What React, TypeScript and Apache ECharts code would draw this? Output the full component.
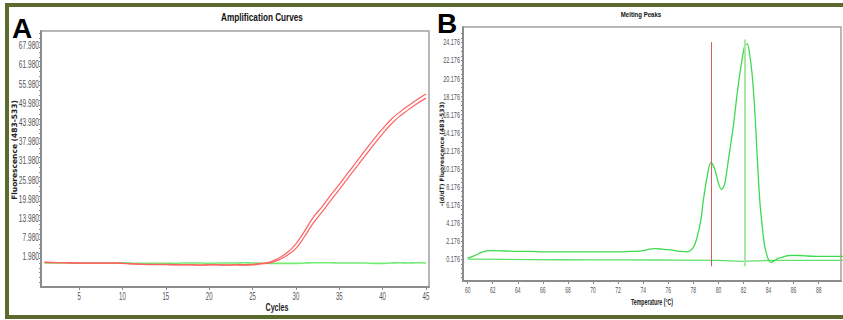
import React, { useEffect, useRef } from "react";
import * as echarts from "echarts";

// ---------- Panel A: Amplification Curves ----------
const cycles = [1,2,3,4,5,6,7,8,9,10,11,12,13,14,15,16,17,18,19,20,21,22,23,24,25,26,27,28,29,30,31,32,33,34,35,36,37,38,39,40,41,42,43,44,45];
const redCurve1 = [0.3,0.2,0.1,0.1,0.0,0.0,0.0,0.0,0.0,-0.1,-0.2,-0.3,-0.4,-0.4,-0.4,-0.5,-0.5,-0.5,-0.6,-0.5,-0.5,-0.6,-0.5,-0.5,-0.4,-0.1,0.3,1.5,3.3,6.0,10.0,14.3,17.6,21.2,24.6,28.2,31.7,35.3,38.8,42.0,45.0,47.3,49.3,51.2,52.9];
const redCurve2 = [0.2,0.1,0.1,0.0,0.0,0.0,0.0,0.0,0.0,-0.1,-0.3,-0.4,-0.5,-0.5,-0.5,-0.6,-0.6,-0.6,-0.7,-0.6,-0.6,-0.7,-0.6,-0.7,-0.6,-0.3,0.0,0.9,2.4,4.6,8.3,12.5,15.9,19.5,23.0,26.6,30.1,33.6,37.1,40.4,43.5,46.0,48.0,49.9,51.6];
const greenCurveA = [0.0,0.0,0.0,0.0,0.0,0.0,0.0,0.0,0.1,0.1,0.0,-0.1,-0.1,-0.1,-0.1,-0.1,0.0,0.0,0.0,-0.1,0.0,0.0,0.0,0.1,0.0,0.0,-0.1,-0.1,-0.1,-0.1,0.0,0.1,0.1,0.1,0.0,0.0,0.0,0.0,-0.1,-0.1,0.0,0.1,0.0,0.1,0.0];
const cycleTicks = [5,10,15,20,25,30,35,40,45];
const fluorTicks = [1.98,7.98,13.98,19.98,25.98,31.98,37.98,43.98,49.98,55.98,61.98,67.98];

// ---------- Panel B: Melting Peaks ----------
const temps = [60,60.5,61,61.5,62,63,64,65,66,67,68,69,70,71,72,73,74,74.5,75,75.5,76,76.5,77,77.5,78,78.3,78.6,78.8,79.1,79.4,79.7,80,80.25,80.5,80.8,81.2,81.5,81.8,82.1,82.3,82.5,82.7,82.9,83.1,83.3,83.5,83.7,84,84.2,84.5,84.8,85.2,85.6,86,86.5,87,88,89,90];
const meltPeak = [0.3,0.55,0.9,1.1,1.15,1.1,1.05,1.05,1.0,1.0,1.0,1.0,1.0,1.0,1.0,1.05,1.15,1.3,1.35,1.3,1.25,1.15,1.05,1.0,1.5,2.6,4.5,6.7,9.3,10.9,10.2,8.6,7.9,8.5,11.2,15.0,18.5,21.5,23.8,24.0,22.8,20.5,16.7,11.5,6.7,3.8,1.6,0.1,-0.16,0.05,0.3,0.46,0.6,0.62,0.6,0.55,0.5,0.5,0.5];
const baseTemps = [60,65,70,75,80,82,84,86,90];
const meltBase = [0.2,0.15,0.12,0.1,0.05,-0.05,0.05,0.05,0.05];
const tempTicks = [60,62,64,66,68,70,72,74,76,78,80,82,84,86,88];
const dfTicks = [0.176,2.176,4.176,6.176,8.176,10.176,12.176,14.176,16.176,18.176,20.176,22.176,24.176];
const redMarkerTemp = 79.4;
const greenMarkerTemp = 82.1;

const SANS = "'Liberation Sans', Arial, sans-serif";

function denseTicks(start: number, end: number, step: number): number[] {
  const out: number[] = [];
  for (let v = start; v <= end + 1e-9; v += step) out.push(+v.toFixed(4));
  return out;
}

export default function App() {
  const ref = useRef<HTMLDivElement>(null);
  useEffect(() => {
    if (!ref.current) return;
    const chart = echarts.init(ref.current, null, { renderer: "svg" });
    const axisGray = "#8c8c8c";
    const labelColor = "#555555";
    const option: any = {
      animation: false,
      backgroundColor: "#ffffff",
      grid: [
        { left: 41, top: 31, right: 414, bottom: 33, show: true, borderColor: "#a0a0a0", borderWidth: 1.5, backgroundColor: "#fff" },
        { left: 463, top: 27, right: 2, bottom: 39, show: true, borderColor: "#a0a0a0", borderWidth: 1.5, backgroundColor: "#fff" },
      ],
      xAxis: [
        {
          type: "value", gridIndex: 0, min: 0.6, max: 45.35,
          axisLine: { show: true, onZero: false, lineStyle: { color: axisGray, width: 2 } },
          axisTick: { show: true, length: 3, customValues: cycleTicks, lineStyle: { color: axisGray } },
          axisLabel: { show: false },
          splitLine: { show: false },
        },
        {
          type: "value", gridIndex: 1, min: 59.63, max: 89.78,
          axisLine: { show: true, onZero: false, lineStyle: { color: axisGray, width: 2 } },
          axisTick: { show: true, length: 3, customValues: tempTicks, lineStyle: { color: axisGray } },
          axisLabel: { show: false },
          splitLine: { show: false },
        },
      ],
      yAxis: [
        {
          type: "value", gridIndex: 0, min: -7.5, max: 72.6,
          axisLine: { show: true, onZero: false, lineStyle: { color: axisGray, width: 2 } },
          axisTick: { show: true, length: 2, customValues: denseTicks(-6.02, 72, 1.5), lineStyle: { color: axisGray } },
          axisLabel: { show: false },
          splitLine: { show: false },
        },
        {
          type: "value", gridIndex: 1, min: -2.22, max: 25.87,
          axisLine: { show: true, onZero: false, lineStyle: { color: axisGray, width: 2 } },
          axisTick: { show: true, length: 2, customValues: denseTicks(-1.824, 25.5, 0.5), lineStyle: { color: axisGray } },
          axisLabel: { show: false },
          splitLine: { show: false },
        },
      ],
      series: [
        {
          type: "line", xAxisIndex: 0, yAxisIndex: 0, showSymbol: false, smooth: true,
          data: cycles.map((c, i) => [c, greenCurveA[i]]),
          lineStyle: { color: "#74ec74", width: 1.6 },
        },
        {
          type: "line", xAxisIndex: 0, yAxisIndex: 0, showSymbol: false, smooth: true,
          data: cycles.map((c, i) => [c, redCurve1[i]]),
          lineStyle: { color: "#ff6262", width: 1.2 },
        },
        {
          type: "line", xAxisIndex: 0, yAxisIndex: 0, showSymbol: false, smooth: true,
          data: cycles.map((c, i) => [c, redCurve2[i]]),
          lineStyle: { color: "#ff6262", width: 1.2 },
        },
        {
          type: "line", xAxisIndex: 1, yAxisIndex: 1, showSymbol: false, smooth: true,
          data: baseTemps.map((t, i) => [t, meltBase[i]]),
          lineStyle: { color: "#5fe06a", width: 1.3 },
        },
        {
          type: "line", xAxisIndex: 1, yAxisIndex: 1, showSymbol: false, smooth: 0.3,
          data: temps.map((t, i) => [t, meltPeak[i]]),
          lineStyle: { color: "#3fd94f", width: 1.3 },
          markLine: {
            silent: true, symbol: "none", label: { show: false },
            data: [
              [
                { coord: [redMarkerTemp, -0.6], lineStyle: { color: "#d06060", width: 1, type: "solid" } },
                { coord: [redMarkerTemp, 24.2] },
              ],
              [
                { coord: [greenMarkerTemp, -0.6], lineStyle: { color: "#a8e8a0", width: 2, type: "solid" } },
                { coord: [greenMarkerTemp, 24.5] },
              ],
            ],
          },
        },
      ],
    };
    chart.setOption(option);

    const txt = (x: number, y: number, text: string, o: any = {}) => ({
      type: "text", x, y, scaleX: o.scaleX ?? 1, rotation: o.rotation ?? 0, silent: true,
      style: {
        text, fontSize: o.fontSize ?? 10, fontWeight: o.fontWeight ?? "normal",
        fontFamily: o.fontFamily ?? SANS, fill: o.fill ?? labelColor,
        textAlign: o.align ?? "center", textVerticalAlign: "middle",
      },
    });

    const graphics: any[] = [
      // outer olive frame
      { type: "rect", shape: { x: 5, y: 3, width: 838, height: 4 }, style: { fill: "#5b6b2e" }, silent: true },
      { type: "rect", shape: { x: 5, y: 315, width: 838, height: 4 }, style: { fill: "#5b6b2e" }, silent: true },
      { type: "rect", shape: { x: 5, y: 3, width: 4, height: 316 }, style: { fill: "#5b6b2e" }, silent: true },
      // panel letters
      txt(22, 28, "A", { fontSize: 28, fontWeight: "bold", fill: "#000" }),
      txt(447, 23, "B", { fontSize: 28, fontWeight: "bold", fill: "#000" }),
      // titles
      txt(262, 18, "Amplification Curves", { fontSize: 10, fontWeight: "bold", fill: "#111", scaleX: 0.82 }),
      txt(641, 15, "Melting Peaks", { fontSize: 8, fontWeight: "bold", fill: "#111", scaleX: 0.76 }),
      // axis names
      txt(277, 307, "Cycles", { fontSize: 11, fontWeight: "bold", fill: "#222", scaleX: 0.65 }),
      txt(652, 302, "Temperature (°C)", { fontSize: 9, fontWeight: "bold", fill: "#222", scaleX: 0.58 }),
      txt(14, 150, "Fluorescence (483-533)", { fontSize: 7.5, fontWeight: "bold", fill: "#222", fontFamily: "'DejaVu Sans', sans-serif", rotation: Math.PI / 2 }),
      txt(441, 154, "-(d/dT) Fluorescence (483-533)", { fontSize: 6, fontWeight: "bold", fill: "#222", fontFamily: "'DejaVu Sans', sans-serif", rotation: Math.PI / 2 }),
    ];

    // tick labels positioned through the axes' own scales
    cycleTicks.forEach((v) => {
      const px = chart.convertToPixel({ xAxisIndex: 0 }, v) as number;
      graphics.push(txt(px, 296, String(v), { fontSize: 10.5, scaleX: 0.58 }));
    });
    fluorTicks.forEach((v) => {
      const py = chart.convertToPixel({ yAxisIndex: 0 }, v) as number;
      graphics.push(txt(39, py, v.toFixed(3), { fontSize: 10, scaleX: 0.66, align: "right" }));
    });
    tempTicks.forEach((v) => {
      const px = chart.convertToPixel({ xAxisIndex: 1 }, v) as number;
      graphics.push(txt(px, 290, String(v), { fontSize: 9, scaleX: 0.55 }));
    });
    dfTicks.forEach((v) => {
      const py = chart.convertToPixel({ yAxisIndex: 1 }, v) as number;
      graphics.push(txt(460, py, v.toFixed(3), { fontSize: 9.5, scaleX: 0.58, align: "right" }));
    });

    chart.setOption({ graphic: graphics });
    return () => chart.dispose();
  }, []);
  return <div ref={ref} style={{ position: "fixed", left: 0, top: 0, width: 843, height: 320 }} />;
}
